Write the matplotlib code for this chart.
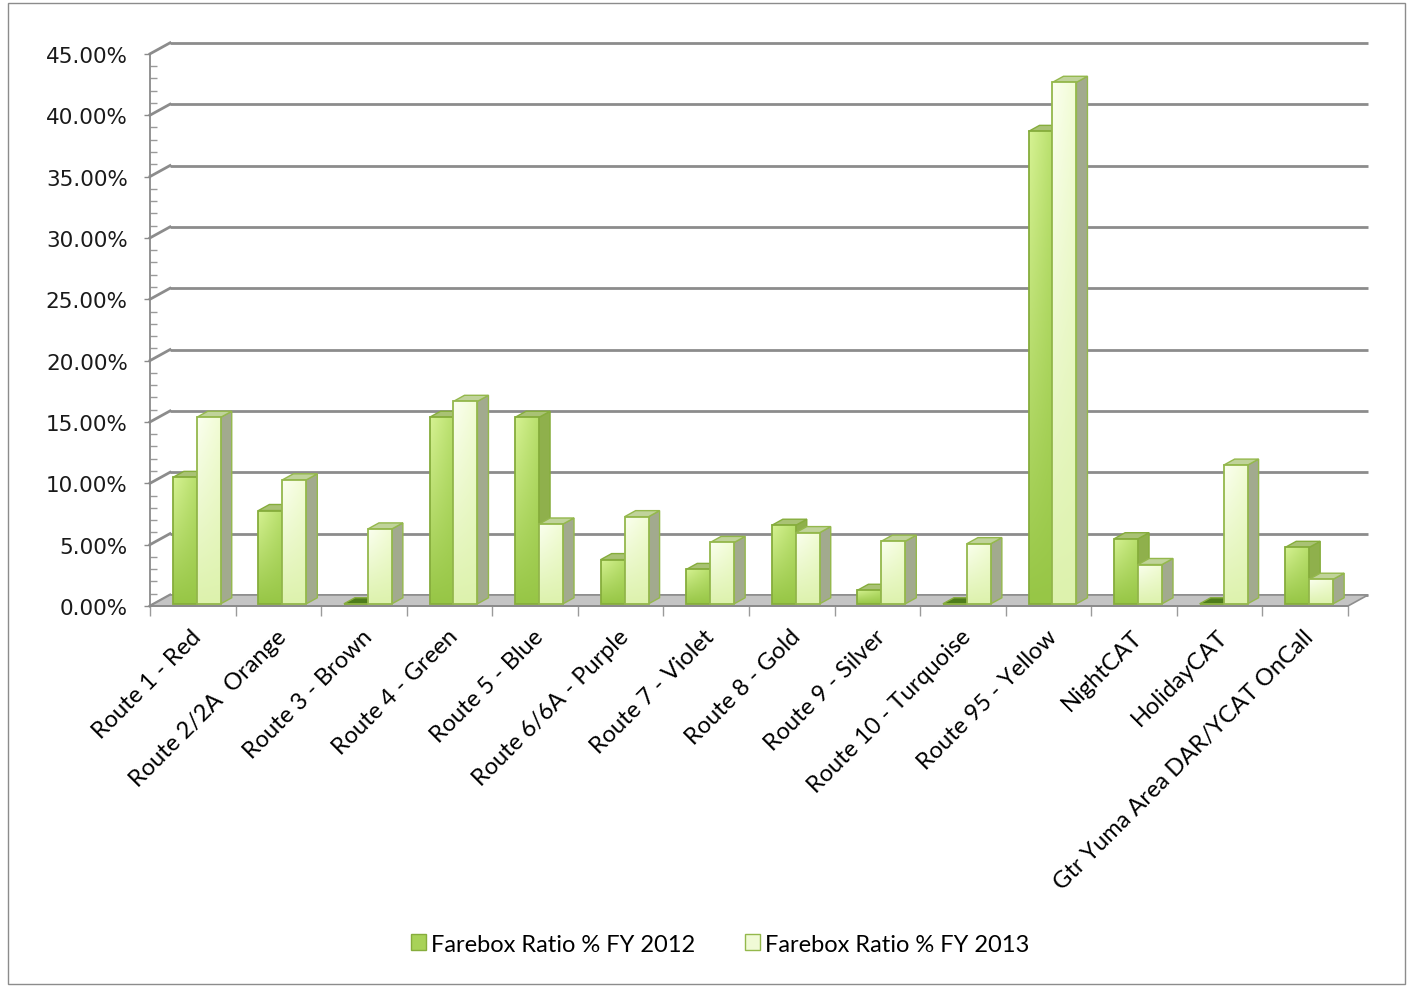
import numpy as np
import matplotlib.pyplot as plt
from matplotlib.colors import to_rgb
from matplotlib.patches import Polygon, Patch, Rectangle

routes = ["Route 1 - Red", "Route 2/2A  Orange", "Route 3 - Brown", "Route 4 - Green",
          "Route 5 - Blue", "Route 6/6A - Purple", "Route 7 - Violet", "Route 8 - Gold",
          "Route 9 - Silver", "Route 10 - Turquoise", "Route 95 - Yellow", "NightCAT",
          "HolidayCAT", "Gtr Yuma Area DAR/YCAT OnCall"]
fy2012 = [10.3, 7.6, 0.0, 15.2, 15.2, 3.6, 2.8, 6.4, 1.1, 0.0, 38.5, 5.3, 0.0, 4.6]
fy2013 = [15.2, 10.1, 6.1, 16.5, 6.5, 7.1, 5.0, 5.8, 5.1, 4.9, 42.5, 3.2, 11.3, 2.0]
series_names = ["Farebox Ratio % FY 2012", "Farebox Ratio % FY 2013"]
yticks = np.arange(0, 46, 5)

W, H = 1412, 987
n = len(routes)

# pixel scale of the plot box
px_cat = 85.57
px_pct = 12.27
x0_px, y0_px = 150, H - 607
xlim = (-0.1, n + 0.3)
ylim = (-0.4, 46.3)

# depth of the floor / walls, and bars placement in that depth
dxw, dyw = 20 / px_cat, 11 / px_pct
f0, fd = 0.2, 0.55
bw = 0.28

fig = plt.figure(figsize=(W / 100, H / 100), dpi=100)
ax = fig.add_axes([(x0_px + xlim[0] * px_cat) / W,
                   (y0_px + ylim[0] * px_pct) / H,
                   (xlim[1] - xlim[0]) * px_cat / W,
                   (ylim[1] - ylim[0]) * px_pct / H])

grid_c = '#8c8c8c'
# back wall gridlines + side wall diagonals
for v in yticks:
    ax.plot([dxw, n + dxw], [v + dyw, v + dyw], color=grid_c, lw=2.0, zorder=1,
            solid_capstyle='butt')
    ax.plot([0, dxw], [v, v + dyw], color=grid_c, lw=2.0, zorder=1)

# floor
floor = Polygon([(0, 0), (n, 0), (n + dxw, dyw), (dxw, dyw)], closed=True,
                facecolor='#c4c4c4', edgecolor='#8e8e8e', lw=1.2, zorder=2)
ax.add_patch(floor)


def face_gradient(c_tl, c_br, c_bot, shape=(64, 32)):
    # vertical blend bottom->top, plus a left->right shading
    gy = np.linspace(0, 1, shape[0])[:, None, None]
    gx = np.linspace(0, 1, shape[1])[None, :, None]
    tl, br, bt = (np.array(to_rgb(c)) for c in (c_tl, c_br, c_bot))
    top_row = tl * (1 - gx) + br * gx
    return np.clip(bt * (1 - gy) + top_row * gy, 0, 1)


styles = [
    dict(img=face_gradient('#d6f293', '#b8df6c', '#97c646'),
         edge='#86ad3c', side='#8fb04c', cap='#a9c274'),
    dict(img=face_gradient('#fbfff0', '#f1fcd4', '#ddf2ad'),
         edge='#94b84c', side='#a2aa8e', cap='#c0d39a'),
]

ddx, ddy = fd * dxw, fd * dyw
base = f0 * dyw
idx = np.arange(n)
x_left = [idx + 0.5 - bw + f0 * dxw, idx + 0.5 + f0 * dxw]

for s, vals in enumerate([fy2012, fy2013]):
    st = styles[s]
    bars = ax.bar(x_left[s], vals, width=bw, bottom=base, align='edge',
                  facecolor='none', edgecolor=st['edge'], lw=1.3)
    for i, (b, v) in enumerate(zip(bars, vals)):
        z = 3 + (i * 2 + s) * 3
        xl = b.get_x()
        xr = xl + b.get_width()
        y1 = base + v
        side = Polygon([(xr, base), (xr + ddx, base + ddy), (xr + ddx, y1 + ddy), (xr, y1)],
                       closed=True, facecolor=st['side'], edgecolor=st['edge'], lw=1.0, zorder=z)
        capc = st['cap'] if v > 0 else '#4e7c1c'
        cap = Polygon([(xl, y1), (xr, y1), (xr + ddx, y1 + ddy), (xl + ddx, y1 + ddy)],
                      closed=True, facecolor=capc, edgecolor=st['edge'], lw=1.0, zorder=z)
        ax.add_patch(side)
        ax.add_patch(cap)
        if v > 0:
            im = ax.imshow(st['img'], extent=[xl, xr, base, y1], origin='lower',
                           aspect='auto', zorder=z + 1, interpolation='bilinear')
            im.set_clip_path(b)
        b.set_zorder(z + 2)

ax.set_xlim(*xlim)
ax.set_ylim(*ylim)

# axes lines
for side in ['top', 'right']:
    ax.spines[side].set_visible(False)
ax.spines['left'].set_position(('data', 0))
ax.spines['left'].set_bounds(0, 45)
ax.spines['bottom'].set_position(('data', 0))
ax.spines['bottom'].set_bounds(0, n)
for side in ['left', 'bottom']:
    ax.spines[side].set_color('#8a8a8a')
    ax.spines[side].set_linewidth(1.3)
    ax.spines[side].set_zorder(2.5)

ax.set_yticks(yticks)
ax.set_yticklabels([f'{v:.2f}%' for v in yticks], fontsize=15.5, color='#1a1a1a',
                   family='DejaVu Sans')
ax.set_yticks(np.arange(0, 46, 1), minor=True)
ax.tick_params(axis='y', which='major', direction='out', length=4, width=1,
               color='#8a8a8a', pad=12)
ax.tick_params(axis='y', which='minor', direction='in', length=5, width=1, color='#9a9a9a')

ax.set_xticks(idx + 0.47)
ax.set_xticklabels(routes, fontsize=17, family='Lato', rotation=45, ha='right',
                   va='top', rotation_mode='anchor')
ax.set_xticks(np.arange(n + 1), minor=True)
ax.tick_params(axis='x', which='major', length=0, pad=14)
ax.tick_params(axis='x', which='minor', direction='out', length=7, width=1, color='#9a9a9a')

handles = [Patch(facecolor='#a8d258', edgecolor='#86ad3c', lw=1.0),
           Patch(facecolor='#f0fad6', edgecolor='#94b84c', lw=1.0)]
fig.legend(handles, series_names, loc='center', bbox_to_anchor=(720 / W, 1 - 945 / H),
           ncol=2, frameon=False, prop=dict(family='Lato', size=17),
           handlelength=0.65, handleheight=0.65, handletextpad=0.2, columnspacing=2.1)

fig.add_artist(Rectangle((8 / W, 2 / H), (1405 - 8) / W, (985 - 4) / H,
                         transform=fig.transFigure, fill=False, ec='#8c8c8c', lw=1))

fig.savefig('out.png', dpi=100)
